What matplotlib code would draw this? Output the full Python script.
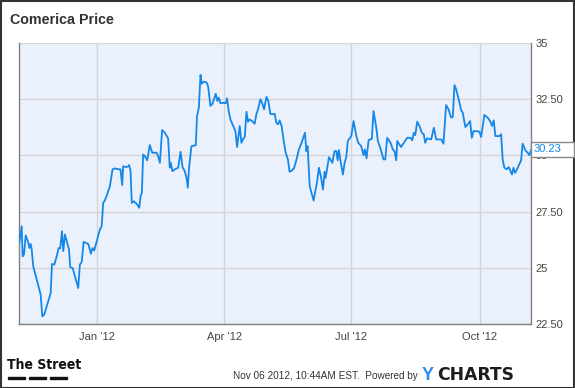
import numpy as np
import pandas as pd
import matplotlib
matplotlib.use("Agg")
import matplotlib.pyplot as plt
from matplotlib.patches import Rectangle

# === DATA ===
start = pd.Timestamp("2011-11-06")
days = [0.2, 1.9, 2.6, 3.6, 4.8, 6.7, 7.4, 8.4, 9.1, 10.2, 12.7, 15.5, 16.7, 18.1, 20.2,
        22.7, 23.6, 25.3, 27.0, 28.4, 29.5, 30.8, 31.7, 32.9, 34.5, 35.8, 36.7, 38.4, 40.1,
        42.4, 43.6, 44.9, 46.3, 49.6, 51.5, 52.7, 53.9, 56.0, 57.9, 59.2, 60.3, 61.2, 62.7,
        65.1, 67.0, 68.7, 71.7, 72.7, 73.9, 74.6, 76.5, 78.2, 78.9, 79.9, 80.8, 82.3, 84.6,
        86.1, 87.1, 88.0, 88.9, 90.1, 91.8, 93.7, 95.4, 98.5, 99.6, 100.9, 102.5, 104.4,
        106.8, 108.0, 108.7, 109.9, 111.6, 114.0, 115.7, 117.1, 118.7, 120.0, 120.9, 121.8,
        123.5, 126.6, 127.5, 128.8, 130.0, 130.9, 132.3, 134.3, 135.4, 137.1, 138.6, 140.9,
        142.1, 143.1, 144.3, 146.2, 148.1, 149.0, 150.2, 151.4, 153.8, 155.0, 156.2, 158.1,
        159.3, 160.4, 161.7, 162.9, 164.0, 165.2, 166.9, 168.8, 170.0, 171.2, 172.9, 174.3,
        175.5, 177.2, 178.6, 180.0, 181.5, 183.1, 184.3, 185.5, 186.7, 188.1, 189.6, 191.0,
        192.6, 193.8, 195.5, 196.9, 198.6, 200.5, 202.4, 204.8, 205.8, 206.7, 208.2, 209.8,
        211.0, 212.2, 213.4, 214.8, 216.2, 217.7, 218.9, 219.6, 222.0, 223.0, 224.4, 226.0,
        227.3, 228.2, 229.1, 230.3, 232.0, 233.2, 234.4, 235.5, 238.0, 239.6, 241.6, 243.0,
        245.1, 246.8, 247.7, 248.9, 250.4, 252.7, 253.9, 255.9, 257.0, 258.9, 261.1, 262.3,
        263.7, 266.1, 267.7, 268.9, 270.2, 270.9, 273.7, 275.6, 278.0, 280.4, 281.6, 282.8,
        283.8, 285.2, 286.8, 288.5, 289.9, 290.9, 292.3, 295.2, 297.1, 298.8, 302.4, 304.0,
        305.9, 307.6, 309.5, 310.7, 311.9, 313.1, 315.5, 316.7, 317.8, 319.7, 321.4, 323.1,
        324.3, 325.5, 327.8, 329.8, 331.0, 333.3, 335.7, 337.4, 338.8, 340.0, 341.2, 344.1,
        345.3, 346.4, 347.6, 349.3, 350.7, 351.9, 353.1, 354.1, 355.3, 357.2, 359.6, 360.7,
        362.7, 364.3, 365.5, 366.7]
price = [26.11, 26.85, 25.51, 25.60, 26.44, 26.11, 25.88, 26.06, 25.81, 25.07, 24.47, 23.81,
         22.84, 22.92, 23.36, 23.88, 25.17, 25.14, 25.51, 25.88, 25.86, 26.63, 25.74, 26.48,
         26.11, 25.81, 25.02, 24.99, 24.62, 24.10, 25.14, 25.26, 26.15, 26.06, 25.63, 25.88,
         25.77, 26.26, 26.70, 26.85, 27.89, 27.96, 28.19, 28.63, 29.38, 29.42, 29.38, 29.38,
         28.68, 29.52, 29.48, 29.51, 29.57, 29.30, 27.89, 27.96, 27.82, 27.67, 28.19, 28.33,
         30.04, 29.97, 29.78, 30.46, 30.12, 30.12, 29.97, 29.67, 31.13, 31.01, 30.76, 29.45,
         29.67, 29.30, 29.38, 29.45, 30.16, 29.48, 29.30, 29.00, 28.56, 29.45, 30.41, 30.45,
         31.75, 32.12, 33.58, 33.19, 33.28, 33.25, 33.09, 32.20, 32.30, 32.74, 32.42, 32.57,
         32.32, 32.34, 32.32, 32.54, 31.97, 31.60, 31.26, 31.08, 30.37, 31.31, 30.56, 30.71,
         30.82, 31.94, 31.50, 31.60, 31.53, 31.41, 31.83, 32.05, 32.50, 32.30, 32.05, 32.60,
         32.42, 31.85, 31.83, 31.85, 31.45, 31.38, 31.56, 31.31, 30.64, 30.12, 29.82, 29.27,
         29.33, 29.42, 29.78, 30.27, 30.56, 31.01, 30.19, 30.41, 28.63, 28.26, 27.99, 28.41,
         28.78, 29.45, 29.08, 28.48, 29.27, 29.00, 29.92, 29.82, 29.67, 30.19, 30.19, 29.78,
         30.24, 29.75, 29.15, 29.67, 29.92, 30.64, 30.86, 31.53, 30.86, 30.56, 30.41, 30.01,
         30.27, 29.87, 30.68, 30.74, 31.97, 31.23, 30.64, 30.31, 29.82, 29.82, 30.78, 30.56,
         30.27, 30.19, 29.78, 30.64, 30.37, 30.56, 30.78, 30.78, 30.67, 31.01, 30.90, 31.50,
         31.31, 31.01, 30.94, 30.56, 30.76, 30.71, 31.23, 30.71, 30.71, 30.52, 32.24, 32.05,
         31.68, 31.71, 33.13, 32.94, 32.34, 32.01, 31.90, 31.26, 31.38, 31.53, 30.78, 31.08,
         31.08, 31.05, 30.82, 31.80, 31.68, 31.53, 31.31, 31.56, 30.86, 30.86, 30.94, 29.82,
         29.45, 29.38, 29.48, 29.33, 29.15, 29.45, 29.22, 29.45, 29.78, 30.52, 30.22, 30.12,
         30.01, 30.23]

x_ticks = ["2012-01-01", "2012-04-01", "2012-07-01", "2012-10-01"]
x_labels = ["Jan '12", "Apr '12", "Jul '12", "Oct '12"]
y_ticks = [22.5, 25, 27.5, 30, 32.5, 35]
y_labels = ["22.50", "25", "27.50", "30", "32.50", "35"]
last_price = "30.23"

dates = start + pd.to_timedelta(np.array(days), unit="D")

W, H = 575, 388
fig = plt.figure(figsize=(W / 100, H / 100), dpi=100)
plt.rcParams['font.family'] = ['Liberation Sans', 'DejaVu Sans']

def fx(x):
    return x / W

def fy(y):
    return 1 - y / H

# plot area in pixels: x 19..531, y 43..324
ax = fig.add_axes([fx(19), fy(324), (531 - 19) / W, (324 - 43) / H])
ax.set_facecolor("#ebf1fc")
ax.plot(dates, price, color="#1487e8", lw=1.3, zorder=3)

ax.set_xlim(start, start + pd.Timedelta(days=366.7))
ax.set_ylim(22.5, 35)
ax.set_xticks(pd.to_datetime(x_ticks))
ax.set_xticklabels(x_labels)
ax.set_yticks(y_ticks)
ax.set_yticklabels(y_labels)
ax.yaxis.tick_right()
ax.tick_params(axis="both", length=0, labelsize=8, labelcolor="#444444")
ax.tick_params(axis="x", pad=6)
ax.tick_params(axis="y", pad=3)
ax.grid(True, color="#d4d4d4", lw=1)
ax.set_axisbelow(True)
for s in ["left", "bottom", "right"]:
    ax.spines[s].set_color("#808080")
    ax.spines[s].set_linewidth(1)
ax.spines["top"].set_visible(False)

# last value tag, drawn over the "30" tick label like the original
fig.patches.append(Rectangle((fx(531), fy(156.5)), 43 / W, 14.5 / H,
                             transform=fig.transFigure, fc="white",
                             ec="#888888", lw=1, zorder=5))
fig.text(fx(533.5), fy(149.3), last_price, fontsize=8, color="#1487e8",
         ha="left", va="center", zorder=6)

# title
fig.text(fx(10), fy(20), "Comerica Price", fontsize=10.3, fontweight="bold",
         color="#333333", ha="left", va="center")

# footer
fig.text(fx(7), fy(365), "The Street", fontsize=10, fontweight="bold",
         family=["Liberation Sans Narrow", "DejaVu Sans"], fontstretch="condensed",
         color="#111111", ha="left", va="center")
for x0 in (8, 29, 50):
    fig.patches.append(Rectangle((fx(x0), fy(379)), 17 / W, 2 / H,
                                 transform=fig.transFigure, color="#111111"))
fig.text(fx(418), fy(376), "Nov 06 2012, 10:44AM EST.  Powered by", fontsize=7.2,
         color="#333333", ha="right", va="center")
fig.text(fx(422), fy(375), "Y", fontsize=13, fontweight="bold", color="#2a8fe6",
         ha="left", va="center")
fig.text(fx(437), fy(375), "CHARTS", fontsize=12.3, fontweight="bold",
         family="DejaVu Sans", color="#1c1c1c", ha="left", va="center")

# outer frame
fig.patches.append(Rectangle((0.5 / W, 0.5 / H), 1 - 1.5 / W, 1 - 1.5 / H,
                             transform=fig.transFigure, fill=False,
                             ec="#333333", lw=1.5))

fig.savefig("out.png", dpi=100)
